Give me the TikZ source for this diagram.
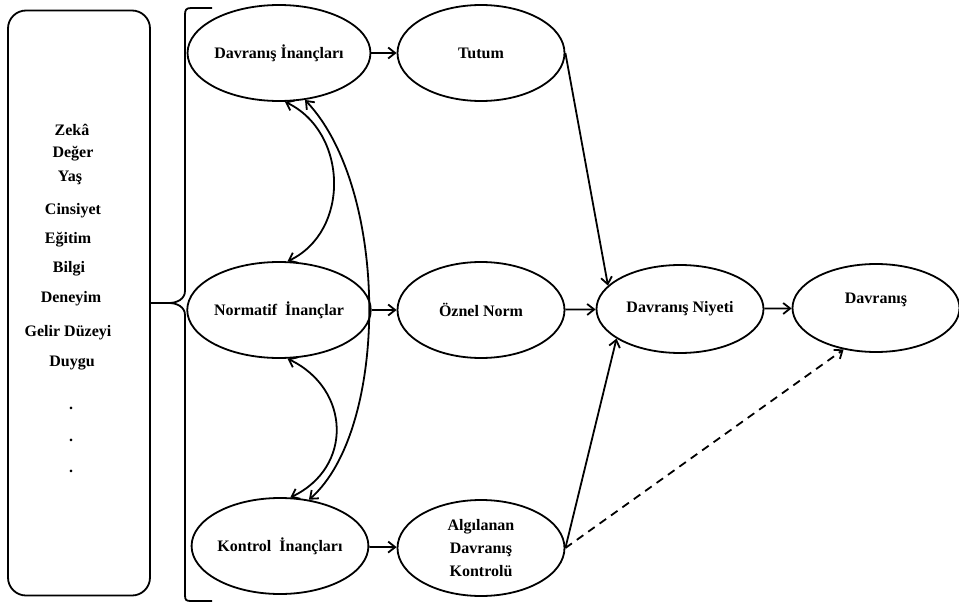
\documentclass[tikz,border=0pt]{standalone}
\usepackage{fontspec}
\setmainfont{Liberation Serif}
\usetikzlibrary{shapes.geometric,arrows.meta,positioning}
\tikzstyle{belief}=[draw,ellipse,line width=1.8pt,minimum width=167pt,minimum height=96pt,inner sep=0pt,align=center,font=\fontsize{16}{23}\selectfont\bfseries]
\tikzstyle{factor}=[inner sep=0pt,font=\fontsize{16}{18}\selectfont\bfseries]
\tikzstyle{link}=[line width=1.8pt,-{Straight Barb[length=7pt,width=11pt]}]
\tikzstyle{twoway}=[line width=1.8pt,{Straight Barb[length=7pt,width=11pt]}-{Straight Barb[length=7pt,width=11pt]}]

\begin{document}
\begin{tikzpicture}[x=1pt,y=-1pt]
\useasboundingbox (0,0) rectangle (959,605);
% factors box
\node [draw,line width=1.8pt,rounded corners=18pt,minimum width=142pt,minimum height=585pt] (factors) at (79,303) {};
\node [factor] (zeka) at (72,130) {Zekâ};
\node [factor] (deger) at (73,154) {Değer};
\node [factor] (yas) at (70,178) {Yaş};
\node [factor] (cinsiyet) at (73,211) {Cinsiyet};
\node [factor] (egitim) at (68,240) {Eğitim};
\node [factor] (bilgi) at (69,269) {Bilgi};
\node [factor] (deneyim) at (71,299) {Deneyim};
\node [factor] (gelir) at (68,333) {Gelir Düzeyi};
\node [factor] (duygu) at (72,363) {Duygu};
\node [factor] (dot1) at (71,408) {.};
\node [factor] (dot2) at (71,440) {.};
\node [factor] (dot3) at (71,471) {.};
% brace
\coordinate (tip) at (169,303);
\draw [line width=1.8pt] (factors.east) -- (tip);
\draw [line width=1.8pt] (212,8) -- (191,8) .. controls (186,8) and (185,10) .. (185,15) -- (185,291)
  .. controls (185,299) and (177,303) .. (tip) .. controls (177,303) and (185,307) .. (185,315)
  -- (185,595) .. controls (185,600) and (186,601) .. (191,601) -- (212,601);
% beliefs
\node [belief] (di) at (279,53) {Davranış İnançları};
\node [belief] (tutum) at (481,53) {Tutum};
\node [belief] (ni) at (279,310) {Normatif\ \ İnançlar};
\node [belief] (oznel) at (481,310) {Öznel Norm};
\node [belief] (ki) at (280,546) {Kontrol\ \ İnançları};
\node [belief] (adk) at (481,548) {Algılanan\\Davranış\\Kontrolü};
\node [belief,minimum height=88pt] (niyeti) at (680,309) {Davranış Niyeti};
\node [belief,minimum height=88pt] (davranis) at (876,308) {Davranış\\[-3pt]};
% connectors
\draw [link] (di) -- (tutum);
\draw [link] (ni) -- (oznel);
\draw [link] (ki) -- (adk);
\draw [link] (oznel) -- (niyeti);
\draw [link] (niyeti) -- (davranis);
\draw [link] (tutum.east) -- (niyeti.162);
\draw [link] (adk.east) -- (niyeti.-155);
\draw [link,dash pattern=on 8pt off 6pt] (adk.east) -- (davranis.-128);
\draw [twoway] (di.-83) .. controls +(63,30) and +(63,-30) .. (ni.80);
\draw [twoway] (ni.-80) .. controls +(63,30) and +(63,-30) .. (ki.78);
\draw [twoway] (di.-61) .. controls +(85,90) and +(80,-70) .. (ki.58);
\end{tikzpicture}
\end{document}
